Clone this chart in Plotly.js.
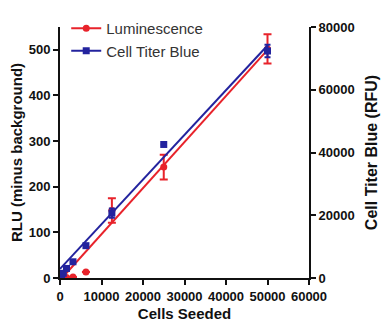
<!DOCTYPE html>
<html><head><meta charset="utf-8">
<script src="https://cdn.plot.ly/plotly-3.0.1.min.js"></script>
<style>html,body{margin:0;padding:0;background:#fff}#chart{width:384px;height:324px}</style>
</head><body><div id="chart"></div>
<script>
var cellsSeeded = [0, 390, 781, 1562, 3125, 6250, 12500, 25000, 50000];
var luminescence = [0, 0, 0, 1, 2, 13, 148, 243, 502];
var luminescenceErr = [0, 0, 0, 0, 0, 0, 27, 27, 32];
var cellTiterBlue = [200, 800, 1500, 3040, 5170, 10300, 20670, 42560, 72350];
var cellTiterBlueErr = [0, 0, 0, 0, 0, 0, 1500, 0, 2000];
var lumFitX = [500, 50000];
var lumFitY = [0, 500];
var ctbFitX = [0, 50000];
var ctbFitY = [2900, 74100];

var red = '#e8232b', blue = '#23239e';
var fam = 'Liberation Sans, Arial, sans-serif';

var traces = [
  {x: lumFitX, y: lumFitY, mode: 'lines', line: {color: red, width: 2}, showlegend: false, hoverinfo: 'skip'},
  {x: ctbFitX, y: ctbFitY, yaxis: 'y2', mode: 'lines', line: {color: blue, width: 2}, showlegend: false, hoverinfo: 'skip'},
  {x: cellsSeeded, y: luminescence, mode: 'markers', marker: {color: red, size: 7, symbol: 'circle'},
   error_y: {type: 'data', array: luminescenceErr, color: red, thickness: 2, width: 4}, showlegend: false},
  {x: cellsSeeded, y: cellTiterBlue, yaxis: 'y2', mode: 'markers', marker: {color: blue, size: 7, symbol: 'square'},
   error_y: {type: 'data', array: cellTiterBlueErr, color: blue, thickness: 2, width: 3}, showlegend: false},
  {x: [null], y: [null], name: 'Luminescence', mode: 'lines+markers', line: {color: red, width: 2}, marker: {color: red, size: 7, symbol: 'circle'}},
  {x: [null], y: [null], name: 'Cell Titer Blue', mode: 'lines+markers', line: {color: blue, width: 2}, marker: {color: blue, size: 7, symbol: 'square'}}
];

var axisCommon = {showgrid: false, zeroline: false, showline: true, linecolor: '#111', linewidth: 2,
  ticks: 'outside', ticklen: 5, tickwidth: 2, tickcolor: '#111', tickformat: 'd',
  tickfont: {family: fam, size: 13, color: '#111', weight: 'bold'}};

var layout = {
  width: 384, height: 324,
  margin: {l: 60, r: 75, t: 14, b: 46},
  paper_bgcolor: '#fff', plot_bgcolor: '#fff',
  xaxis: Object.assign({}, axisCommon, {range: [0, 60000], dtick: 10000,
    title: {text: 'Cells Seeded', font: {family: fam, size: 15, color: '#111', weight: 'bold'}, standoff: 6}}),
  yaxis: Object.assign({}, axisCommon, {range: [0, 550], tickvals: [0, 100, 200, 300, 400, 500],
    title: {text: 'RLU (minus background)', font: {family: fam, size: 15, color: '#111', weight: 'bold'}, standoff: 2}}),
  yaxis2: Object.assign({}, axisCommon, {range: [0, 80000], dtick: 20000, overlaying: 'y', side: 'right',
    title: {text: 'Cell Titer Blue (RFU)', font: {family: fam, size: 16, color: '#111', weight: 'bold'}, standoff: 12}}),
  legend: {x: 0.025, y: 1.06, xanchor: 'left', yanchor: 'top', bgcolor: 'rgba(0,0,0,0)',
    font: {family: fam, size: 15, color: '#333'}, tracegroupgap: 0},
  showlegend: true
};

Plotly.newPlot('chart', traces, layout, {displayModeBar: false, staticPlot: true});
</script></body></html>
